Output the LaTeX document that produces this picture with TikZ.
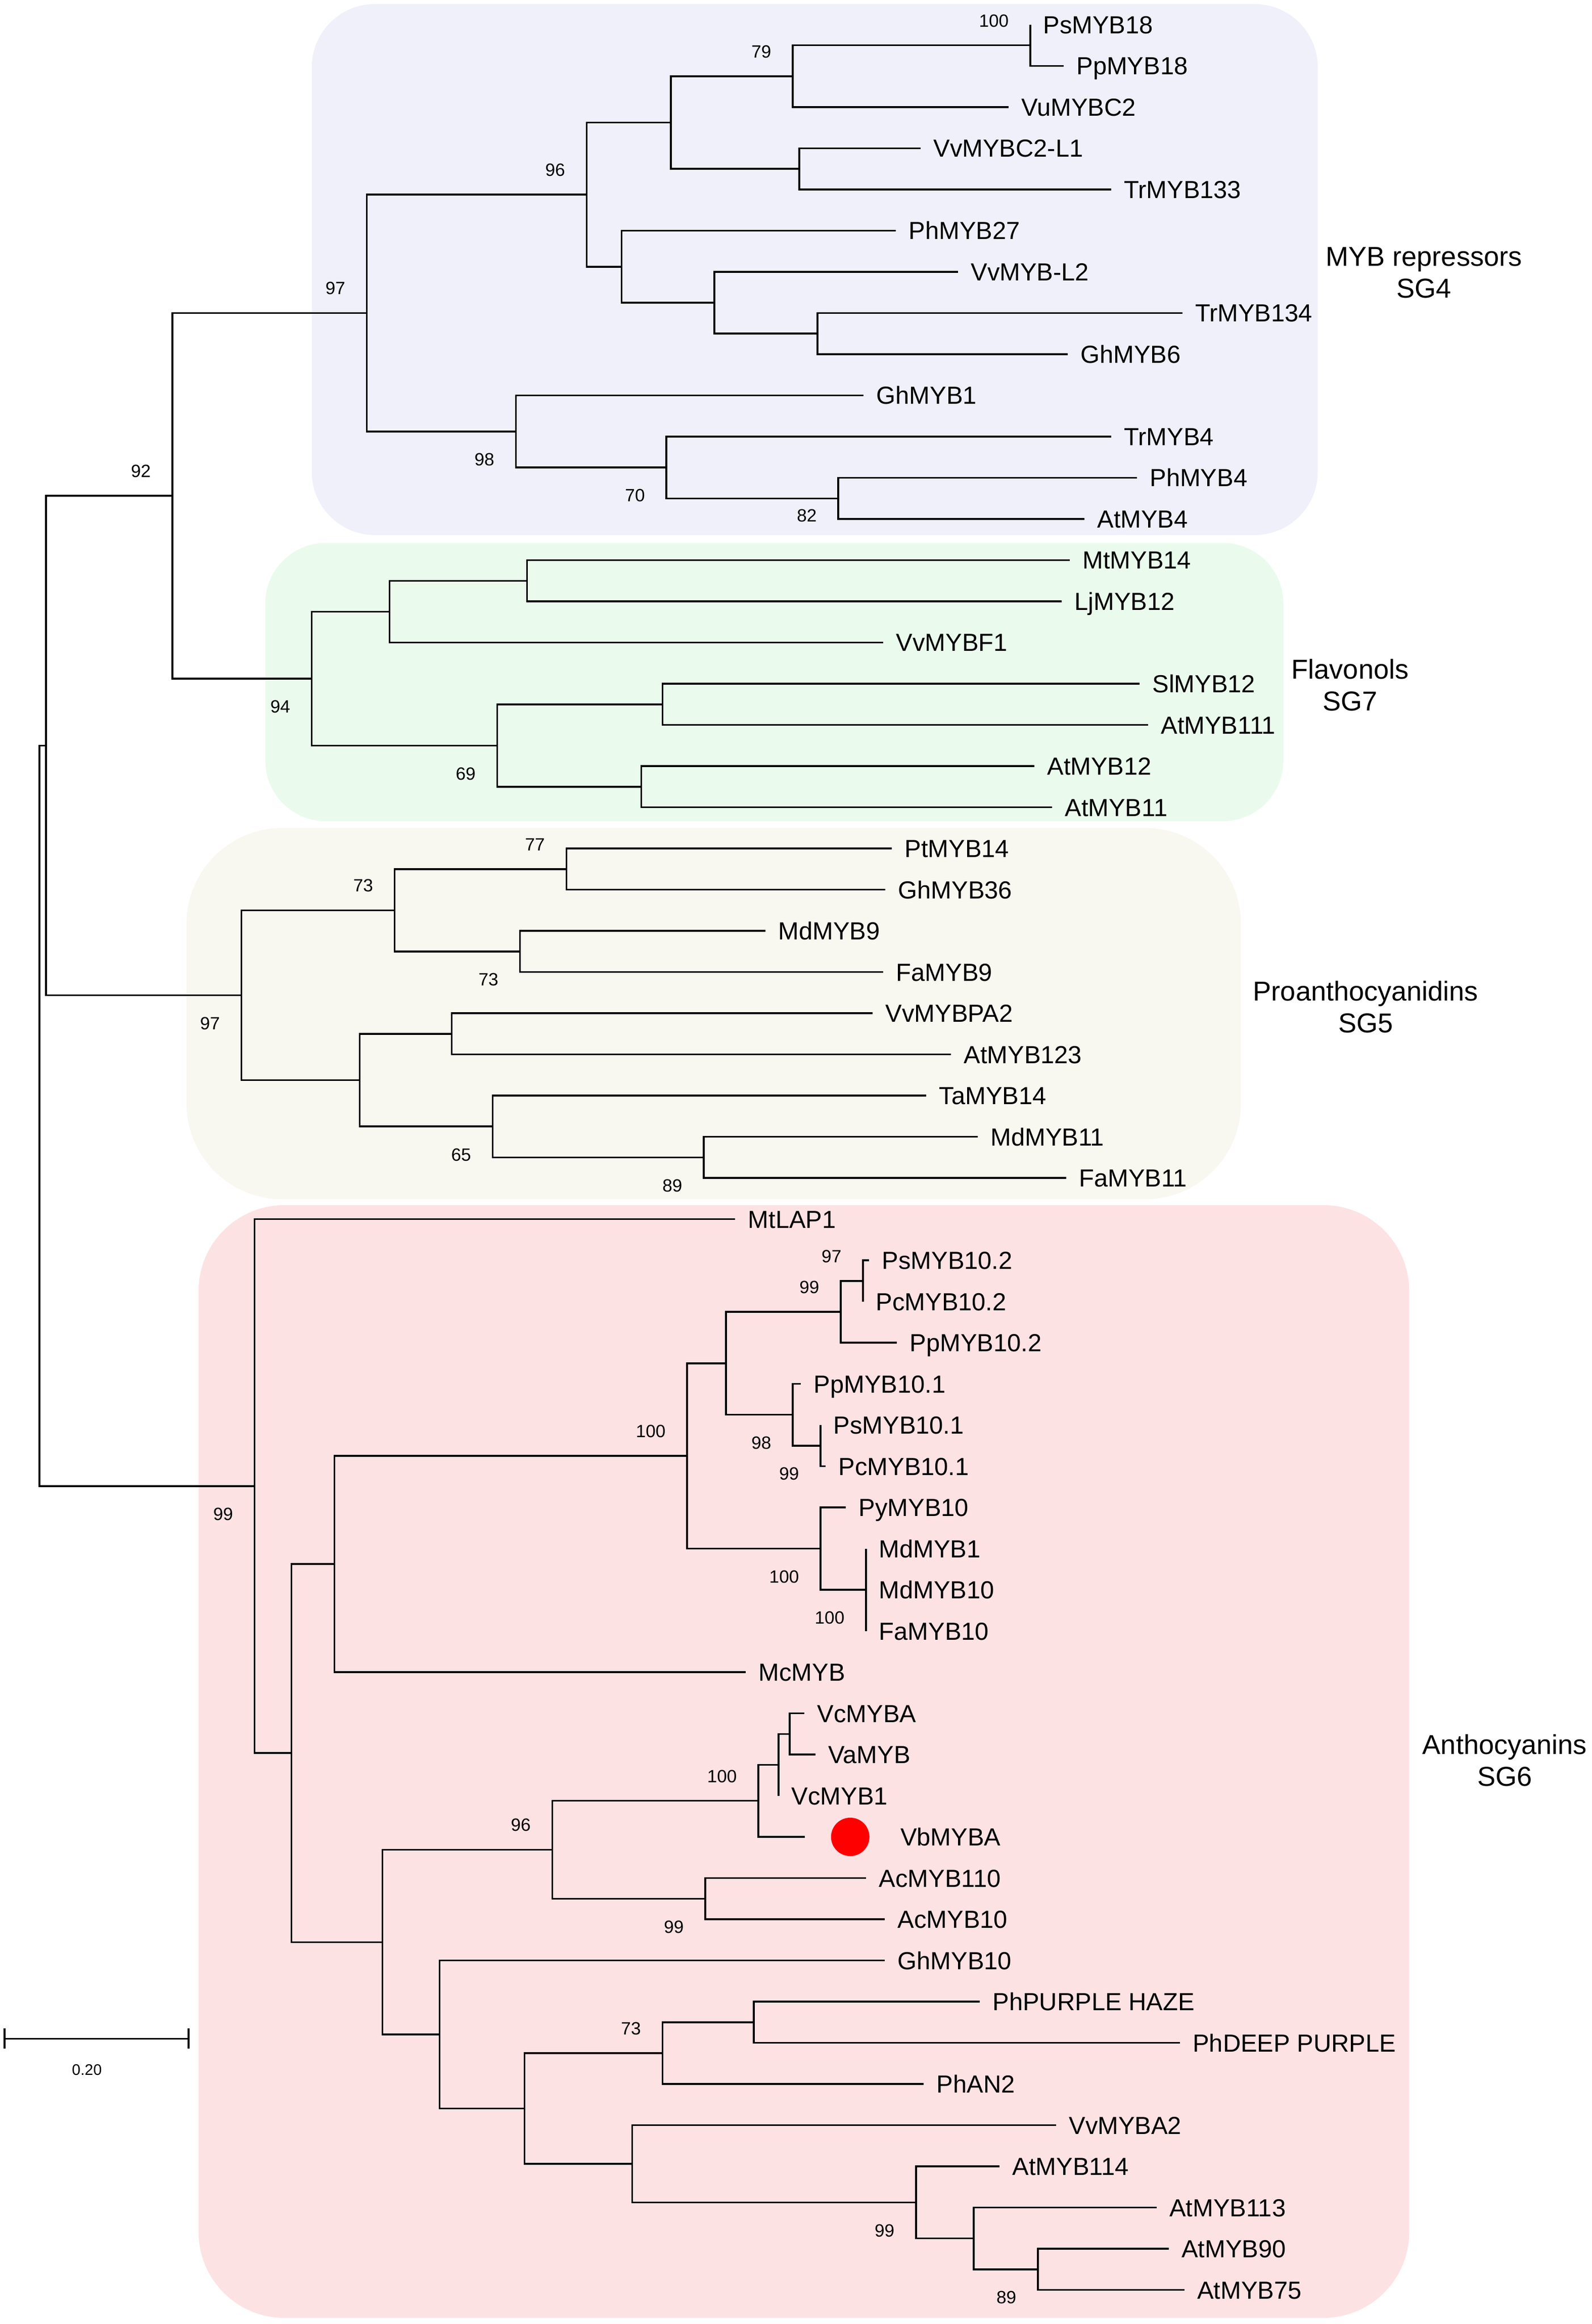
\documentclass[tikz,border=0pt]{standalone}
\usepackage{fontspec}
\setmainfont{Liberation Sans}
\usetikzlibrary{positioning}

\definecolor{sgfour}{RGB}{240,240,250}
\definecolor{sgseven}{RGB}{234,251,238}
\definecolor{sgfive}{RGB}{248,248,241}
\definecolor{sgsix}{RGB}{253,226,228}

\tikzset{
  branch/.style={line width=1pt},
  leaf/.style={inner sep=0pt, text height=9.95pt, text depth=0pt, font=\fontsize{13.9pt}{16pt}\selectfont},
  boot/.style={inner sep=0pt, text height=7.16pt, text depth=0pt, font=\fontsize{10pt}{12pt}\selectfont},
  bsup/.style={boot, above left=0.36cm and 0.42cm of #1},
  bsdown/.style={boot, below left=0.42cm and 0.42cm of #1},
  group/.style={align=center, inner sep=0pt, font=\fontsize{15.4pt}{18pt}\selectfont},
  scalelbl/.style={inner sep=0pt, font=\fontsize{8.6pt}{10pt}\selectfont},
  dot/.style={circle, fill=red, inner sep=0pt, minimum size=0.76cm},
}

\begin{document}
\begin{tikzpicture}[x=0.01cm, y=-0.815cm]
    \useasboundingbox (0,-0.601) rectangle (3150,55.828);
    % subgroup boxes
    \fill[sgfour, rounded corners=1.25cm] (617,-0.503) rectangle (2608,12.39);
    \fill[sgseven, rounded corners=1.2cm] (525,12.58) rectangle (2540,19.34);
    \fill[sgfive, rounded corners=1.9cm] (369,19.50) rectangle (2456,28.52);
    \fill[sgsix, rounded corners=1.7cm] (393,28.66) rectangle (2789,55.68);

    % leaf tips and names
    \foreach \i/\x/\name in {0/2039/PsMYB18, 1/2105/PpMYB18, 2/1996/VuMYBC2, 3/1822/VvMYBC2-L1,
        4/2199/TrMYB133, 5/1773/PhMYB27, 6/1896/VvMYB-L2, 7/2340/TrMYB134, 8/2113/GhMYB6,
        9/1709/GhMYB1, 10/2199/TrMYB4, 11/2250/PhMYB4, 12/2146/AtMYB4,
        13/2117/MtMYB14, 14/2101/LjMYB12, 15/1748/VvMYBF1, 16/2255/SlMYB12, 17/2272/AtMYB111,
        18/2047/AtMYB12, 19/2082/AtMYB11,
        20/1765/PtMYB14, 21/1752/GhMYB36, 22/1515/MdMYB9, 23/1748/FaMYB9, 24/1727/VvMYBPA2,
        25/1882/AtMYB123, 26/1833/TaMYB14, 27/1935/MdMYB11, 28/2110/FaMYB11,
        29/1455/MtLAP1, 30/1720/PsMYB10.2, 31/1708/PcMYB10.2, 32/1775/PpMYB10.2, 33/1585/PpMYB10.1,
        34/1624/PsMYB10.1, 35/1634/PcMYB10.1, 36/1674/PyMYB10, 37/1714/MdMYB1, 38/1714/MdMYB10,
        39/1714/FaMYB10, 40/1476/McMYB, 41/1592/VcMYBA, 42/1614/VaMYB, 43/1541/VcMYB1,
        45/1714/AcMYB110, 46/1751/AcMYB10, 47/1751/GhMYB10, 48/1939/PhPURPLE HAZE,
        49/2335/PhDEEP PURPLE, 50/1828/PhAN2, 51/2090/VvMYBA2, 52/1978/AtMYB114,
        53/2289/AtMYB113, 54/2313/AtMYB90, 55/2344/AtMYB75}{
        \coordinate (t\i) at (\x,\i);
        \node[leaf, right=0.25cm of t\i] (n\i) {\name};
    }
    \coordinate (t44) at (1593,44);
    \node[dot, right=0.51cm of t44] (vbdot) {};
    \node[leaf, right=0.6cm of vbdot] (n44) {VbMYBA};

    % inner nodes
    \foreach \n/\x/\y in {a1/2039/0.5, a2/1569/1.25, a3/1582/3.5, a4/1328/2.375, a5/1618/7.5,
        a6/1414/6.75, a7/1230/5.875, a8/1161/4.125, a9/1659/11.5, a10/1319/10.75, a11/1021/9.875,
        a12/726/7, b1/1043/13.5, b2/771/14.25, b3/1311/16.5, b4/1269/18.5, b5/984/17.5,
        b6/617/15.875, c0/341/11.4375, c1/1121/20.5, c2/1029/22.5, c3/781/21.5, c4/894/24.5,
        c5/1393/27.5, c6/975/26.75, c7/712/25.625, c8/478/23.5625, r1/91/17.5,
        d1/1708/30.5, d2/1664/31.25, d3/1624/34.5, d4/1569/33.75, d5/1437/32.5, d6/1714/38,
        d7/1624/37, d8/1360/34.75, d9/662/37.375, e1/1563/41.5, e2/1541/42.25, e3/1501/43.125,
        e4/1396/45.5, e5/1093/44.3125, f1/1492/48.5, f2/1311/49.25, f3/2054/54.5, f4/1927/53.75,
        f5/1813/52.875, f6/1251/51.9375, f7/1038/50.594, f8/870/48.797, e6/757/46.555,
        e7/577/41.965, d0/504/35.482, root/78/26.49}{
        \coordinate (\n) at (\x,\y);
    }

    % branches
    \foreach \p/\c in {a1/t0, a1/t1, a2/a1, a2/t2, a3/t3, a3/t4, a4/a2, a4/a3, a5/t7, a5/t8,
        a6/t6, a6/a5, a7/t5, a7/a6, a8/a4, a8/a7, a9/t11, a9/t12, a10/t10, a10/a9, a11/t9,
        a11/a10, a12/a8, a12/a11, b1/t13, b1/t14, b2/b1, b2/t15, b3/t16, b3/t17, b4/t18,
        b4/t19, b5/b3, b5/b4, b6/b2, b6/b5, c0/a12, c0/b6, c1/t20, c1/t21, c2/t22, c2/t23,
        c3/c1, c3/c2, c4/t24, c4/t25, c5/t27, c5/t28, c6/t26, c6/c5, c7/c4, c7/c6, c8/c3,
        c8/c7, r1/c0, r1/c8, d1/t30, d1/t31, d2/d1, d2/t32, d3/t34, d3/t35, d4/t33, d4/d3,
        d5/d2, d5/d4, d6/t37, d6/t38, d6/t39, d7/t36, d7/d6, d8/d5, d8/d7, d9/d8, d9/t40,
        e1/t41, e1/t42, e2/e1, e2/t43, e3/e2, e3/t44, e4/t45, e4/t46, e5/e3, e5/e4, f1/t48,
        f1/t49, f2/f1, f2/t50, f3/t54, f3/t55, f4/t53, f4/f3, f5/t52, f5/f4, f6/t51, f6/f5,
        f7/f2, f7/f6, f8/t47, f8/f7, e6/e5, e6/f8, e7/d9, e7/e6, d0/t29, d0/e7, root/r1, root/d0}{
        \draw[branch] (\p) |- (\c);
    }

    % bootstrap values
    \foreach \n/\v in {a1/100, a2/79, a8/96, a12/97, c0/92, c3/73, c1/77, d8/100, d2/99,
        d1/97, e5/96, e3/100, f2/73}{
        \node[bsup=\n] {\v};
    }
    \foreach \n/\v in {a11/98, a10/70, b6/94, b5/69, c8/97, c2/73, c6/65, c5/89,
        d0/99, d4/98, d3/99, d7/100, d6/100, e4/99, f5/99, f3/89}{
        \node[bsdown=\n] {\v};
    }
    \node[boot, below left=0.2cm and 0.42cm of a9] {82};

    % subgroup names
    \node[group] (gfour) at (2818,6.02) {MYB repressors\\SG4};
    \node[group] (gseven) at (2672,16.03) {Flavonols\\SG7};
    \node[group] (gfive) at (2703,23.85) {Proanthocyanidins\\SG5};
    \node[group] (gsix) at (2978,42.14) {Anthocyanins\\SG6};

    % scale bar
    \coordinate (s0) at (9,48.90);
    \coordinate (s1) at (373,48.90);
    \draw[branch] (s0) -- (s1);
    \draw[branch] ([yshift=0.2cm]s0) -- ([yshift=-0.2cm]s0);
    \draw[branch] ([yshift=0.2cm]s1) -- ([yshift=-0.2cm]s1);
    \node[scalelbl] (slab) at (172,49.66) {0.20};
\end{tikzpicture}
\end{document}
